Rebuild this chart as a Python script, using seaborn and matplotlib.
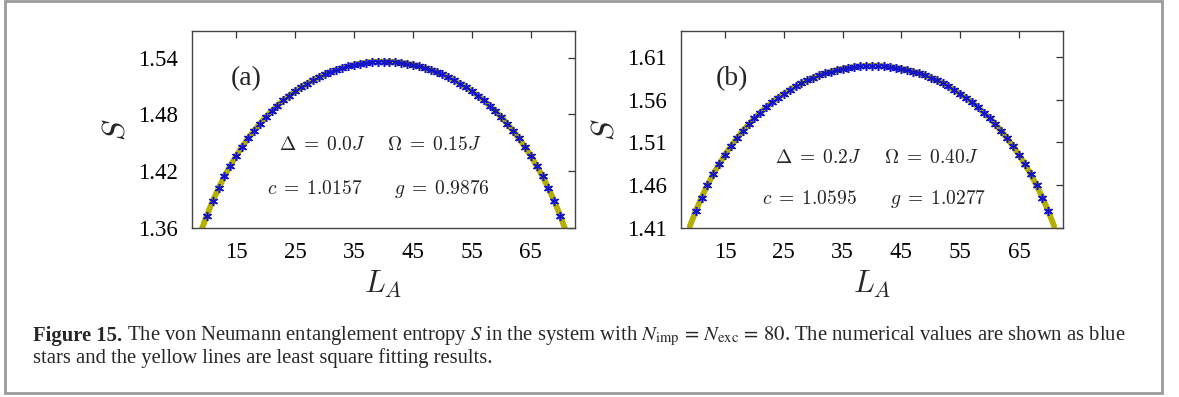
import matplotlib
matplotlib.use("Agg")
import matplotlib.pyplot as plt
from matplotlib.patches import Rectangle
import seaborn as sns
import pandas as pd

# ---------------- data ----------------
L_stars = list(range(10, 71))
S_a_stars = [1.3730, 1.3882, 1.4019, 1.4144, 1.4257, 1.4361, 1.4457, 1.4545, 1.4626, 1.4700,
             1.4770, 1.4833, 1.4893, 1.4947, 1.4997, 1.5044, 1.5086, 1.5125, 1.5161, 1.5193,
             1.5222, 1.5248, 1.5271, 1.5291, 1.5309, 1.5323, 1.5335, 1.5344, 1.5351, 1.5355,
             1.5356,
             1.5355, 1.5351, 1.5344, 1.5335, 1.5323, 1.5309, 1.5291, 1.5271, 1.5248, 1.5222,
             1.5193, 1.5161, 1.5125, 1.5086, 1.5044, 1.4997, 1.4947, 1.4893, 1.4833, 1.4770,
             1.4700, 1.4626, 1.4545, 1.4457, 1.4361, 1.4257, 1.4144, 1.4019, 1.3882, 1.3730]
S_b_stars = [1.4297, 1.4456, 1.4599, 1.4729, 1.4847, 1.4956, 1.5055, 1.5147, 1.5231, 1.5309,
             1.5382, 1.5448, 1.5510, 1.5567, 1.5619, 1.5668, 1.5712, 1.5753, 1.5790, 1.5823,
             1.5854, 1.5881, 1.5905, 1.5926, 1.5944, 1.5959, 1.5972, 1.5981, 1.5988, 1.5992,
             1.5994,
             1.5992, 1.5988, 1.5981, 1.5972, 1.5959, 1.5944, 1.5926, 1.5905, 1.5881, 1.5854,
             1.5823, 1.5790, 1.5753, 1.5712, 1.5668, 1.5619, 1.5567, 1.5510, 1.5448, 1.5382,
             1.5309, 1.5231, 1.5147, 1.5055, 1.4956, 1.4847, 1.4729, 1.4599, 1.4456, 1.4297]

L_fit = [9] + L_stars + [71]
S_a_fit = [1.3560] + S_a_stars + [1.3560]
S_b_fit = [1.4120] + S_b_stars + [1.4120]

x_ticks = [15, 25, 35, 45, 55, 65]
y_ticks_a = [1.36, 1.42, 1.48, 1.54]
y_ticks_b = [1.41, 1.46, 1.51, 1.56, 1.61]
panel_labels = ["(a)", "(b)"]
params_a = [r"$\Delta\;=\;0.0J$", r"$\Omega\;=\;0.15J$", r"$c\;=\;1.0157$", r"$g\;=\;0.9876$"]
params_b = [r"$\Delta\;=\;0.2J$", r"$\Omega\;=\;0.40J$", r"$c\;=\;1.0595$", r"$g\;=\;1.0277$"]

# ---------------- style ----------------
sns.set_style("white")
plt.rcParams["font.family"] = ["Liberation Serif", "DejaVu Serif"]
plt.rcParams["mathtext.fontset"] = "cm"

W, H = 1179, 397
fig = plt.figure(figsize=(W / 100, H / 100), dpi=100)
fig.patch.set_facecolor("white")

def px_axes(l, t, r, b):
    return fig.add_axes([l / W, 1 - b / H, (r - l) / W, (b - t) / H])

axA = px_axes(192, 31, 575, 228)
axB = px_axes(681, 31, 1063, 228)

fit_color = "#b5b000"
star_color = "#1414c8"

panels = [
    (axA, S_a_stars, S_a_fit, y_ticks_a, (1.36, 1.568)),
    (axB, S_b_stars, S_b_fit, y_ticks_b, (1.41, 1.640)),
]

for ax, s_stars, s_fit, yt, ylim in panels:
    dfit = pd.DataFrame({"L": L_fit, "S": s_fit})
    dst = pd.DataFrame({"L": L_stars, "S": s_stars})
    sns.lineplot(data=dfit, x="L", y="S", ax=ax, color=fit_color, linewidth=4.2,
                 sort=True, estimator=None, zorder=2)
    sns.lineplot(data=dst, x="L", y="S", ax=ax, color=star_color, linestyle="",
                 marker=(6, 2, 0), markersize=6.5, markeredgewidth=1.1,
                 markeredgecolor=star_color, estimator=None, zorder=3)
    ax.set_xlim(7.5, 72.5)
    ax.set_ylim(*ylim)
    ax.set_xticks(x_ticks)
    ax.set_yticks(yt)
    ax.set_yticklabels([f"{v:.2f}" for v in yt])
    ax.tick_params(direction="in", length=5, width=0.9, top=True, right=True,
                   labelsize=16.5, pad=10, colors="#333333", labelcolor="black")
    for sp in ax.spines.values():
        sp.set_color("#444444")
        sp.set_linewidth(1.0)
        sp.set_visible(True)
    ax.set_xlabel(r"$L_A$", fontsize=22, labelpad=4)
    ax.set_ylabel(r"$S$", fontsize=23, labelpad=5)
    ax.set_facecolor("white")

def ax_text(px, py, s, **kw):
    fig.text(px / W, 1 - py / H, s, ha="center", va="center", **kw)

# panel (a) annotations
ax_text(246, 79, panel_labels[0], fontsize=20)
ax_text(322, 145, params_a[0], fontsize=14, color="#222222")
ax_text(434, 145, params_a[1], fontsize=14, color="#222222")
ax_text(315, 189, params_a[2], fontsize=14, color="#222222")
ax_text(442, 189, params_a[3], fontsize=14, color="#222222")
# panel (b) annotations
ax_text(732, 79, panel_labels[1], fontsize=20)
ax_text(818, 158, params_b[0], fontsize=14, color="#222222")
ax_text(931, 158, params_b[1], fontsize=14, color="#222222")
ax_text(809, 199, params_b[2], fontsize=14, color="#222222")
ax_text(938, 199, params_b[3], fontsize=14, color="#222222")

# caption
cap1_bold = "Figure 15."
cap1_rest = (r" The von Neumann entanglement entropy $S$ in the system with "
             r"$N_{\mathrm{imp}}\,=\,N_{\mathrm{exc}}\,=\,80$. The numerical values are shown as blue")
cap2 = "stars and the yellow lines are least square fitting results."
cap_fs = 14.9
t1 = fig.text(33 / W, 1 - 336 / H, cap1_bold, fontsize=cap_fs, fontweight="bold",
              ha="left", va="center", math_fontfamily="stix")
fig.canvas.draw()
bb = t1.get_window_extent()
fig.text((bb.x1) / W, 1 - 336 / H, cap1_rest, fontsize=cap_fs, ha="left", va="center",
         math_fontfamily="stix")
fig.text(33 / W, 1 - 358 / H, cap2, fontsize=cap_fs, ha="left", va="center")

# outer frame
fig.patches.append(Rectangle((5 / W, 4 / H), 1157 / W, 392 / H, transform=fig.transFigure,
                             fill=False, edgecolor="#9a9a9a", linewidth=2))

fig.savefig("out.png", dpi=100, facecolor="white")
